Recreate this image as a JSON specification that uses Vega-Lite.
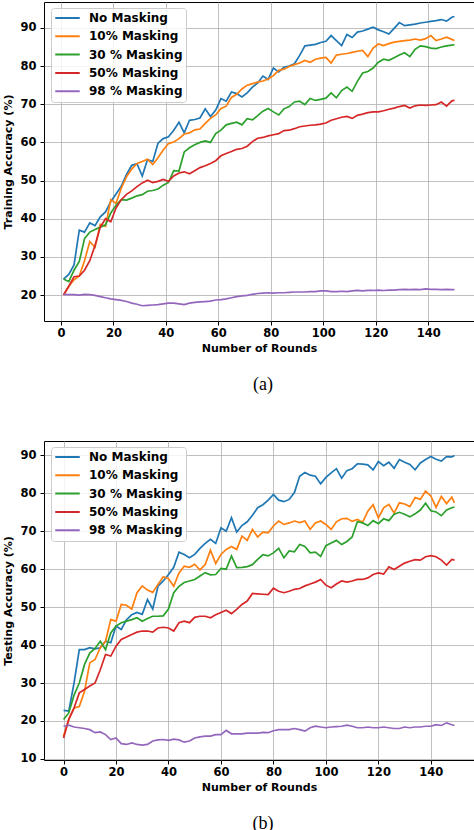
{
  "$schema": "https://vega.github.io/schema/vega-lite/v6.json",
  "background": "white",
  "padding": {"left": 2, "top": 1, "right": 0, "bottom": 0},
  "spacing": 46,
  "config": {
    "view": {"stroke": "black", "strokeWidth": 1},
    "axis": {
      "labelFont": "DejaVu Sans", "labelFontWeight": "bold", "labelFontSize": 11.5, "labelColor": "black",
      "titleFont": "DejaVu Sans", "titleFontWeight": "bold", "titleFontSize": 11, "titleColor": "black",
      "tickColor": "black", "tickSize": 4, "domain": false,
      "gridColor": "#b0b0b0", "gridWidth": 0.8, "gridOpacity": 1
    },
    "axisX": {"labelPadding": 2, "titlePadding": 4},
    "axisY": {"labelPadding": 4, "titlePadding": 6},
    "legend": {
      "orient": "none", "legendX": 7, "legendY": 6,
      "labelFont": "DejaVu Sans", "labelFontWeight": "bold", "labelFontSize": 12, "labelColor": "black",
      "symbolType": "stroke", "symbolStrokeWidth": 2, "symbolSize": 600, "labelOffset": 8,
      "clipHeight": 14, "rowPadding": 4.3, "padding": 3,
      "fillColor": "rgba(255,255,255,0.8)", "strokeColor": "#cccccc", "cornerRadius": 3
    },
    "title": {"font": "Liberation Serif", "fontSize": 18, "fontWeight": "normal", "color": "black", "orient": "bottom", "anchor": "middle", "frame": "group", "offset": 22, "dx": 4}
  },
  "datasets": {
    "train": [
      {"Round": 1, "No Masking": 24.2, "10% Masking": 20.0, "30 % Masking": 24.2, "50% Masking": 20.0, "98 % Masking": 20.2},
      {"Round": 3, "No Masking": 25.4, "10% Masking": 22.3, "30 % Masking": 23.5, "50% Masking": 22.3, "98 % Masking": 20.1},
      {"Round": 5, "No Masking": 27.9, "10% Masking": 24.0, "30 % Masking": 26.5, "50% Masking": 24.8, "98 % Masking": 20.1},
      {"Round": 7, "No Masking": 37.0, "10% Masking": 25.0, "30 % Masking": 28.8, "50% Masking": 25.0, "98 % Masking": 20.0},
      {"Round": 9, "No Masking": 36.5, "10% Masking": 29.0, "30 % Masking": 34.8, "50% Masking": 26.5, "98 % Masking": 20.2},
      {"Round": 11, "No Masking": 38.9, "10% Masking": 34.0, "30 % Masking": 36.5, "50% Masking": 29.0, "98 % Masking": 20.1},
      {"Round": 13, "No Masking": 38.2, "10% Masking": 32.5, "30 % Masking": 37.2, "50% Masking": 33.0, "98 % Masking": 19.9},
      {"Round": 15, "No Masking": 40.5, "10% Masking": 38.5, "30 % Masking": 37.8, "50% Masking": 37.8, "98 % Masking": 19.6},
      {"Round": 17, "No Masking": 41.8, "10% Masking": 38.0, "30 % Masking": 38.4, "50% Masking": 40.0, "98 % Masking": 19.3},
      {"Round": 19, "No Masking": 44.5, "10% Masking": 45.0, "30 % Masking": 41.5, "50% Masking": 39.2, "98 % Masking": 19.0},
      {"Round": 21, "No Masking": 46.5, "10% Masking": 44.0, "30 % Masking": 43.5, "50% Masking": 42.8, "98 % Masking": 18.8},
      {"Round": 23, "No Masking": 48.5, "10% Masking": 48.0, "30 % Masking": 45.0, "50% Masking": 45.0, "98 % Masking": 18.6},
      {"Round": 25, "No Masking": 51.6, "10% Masking": 51.0, "30 % Masking": 44.9, "50% Masking": 46.4, "98 % Masking": 18.3},
      {"Round": 27, "No Masking": 54.0, "10% Masking": 53.0, "30 % Masking": 45.4, "50% Masking": 47.3, "98 % Masking": 17.9},
      {"Round": 29, "No Masking": 54.4, "10% Masking": 54.5, "30 % Masking": 46.0, "50% Masking": 48.4, "98 % Masking": 17.6},
      {"Round": 31, "No Masking": 51.2, "10% Masking": 55.0, "30 % Masking": 46.3, "50% Masking": 49.4, "98 % Masking": 17.2},
      {"Round": 33, "No Masking": 55.5, "10% Masking": 55.6, "30 % Masking": 47.2, "50% Masking": 50.1, "98 % Masking": 17.3},
      {"Round": 35, "No Masking": 55.0, "10% Masking": 54.2, "30 % Masking": 47.4, "50% Masking": 49.5, "98 % Masking": 17.4},
      {"Round": 37, "No Masking": 59.8, "10% Masking": 56.0, "30 % Masking": 47.8, "50% Masking": 49.8, "98 % Masking": 17.5},
      {"Round": 39, "No Masking": 61.0, "10% Masking": 58.0, "30 % Masking": 48.8, "50% Masking": 50.3, "98 % Masking": 17.7},
      {"Round": 41, "No Masking": 61.5, "10% Masking": 59.7, "30 % Masking": 49.5, "50% Masking": 49.8, "98 % Masking": 17.9},
      {"Round": 43, "No Masking": 63.2, "10% Masking": 60.1, "30 % Masking": 52.6, "50% Masking": 51.2, "98 % Masking": 17.9},
      {"Round": 45, "No Masking": 65.3, "10% Masking": 61.0, "30 % Masking": 52.5, "50% Masking": 52.0, "98 % Masking": 17.7},
      {"Round": 47, "No Masking": 62.5, "10% Masking": 62.2, "30 % Masking": 57.5, "50% Masking": 52.3, "98 % Masking": 17.5},
      {"Round": 49, "No Masking": 65.8, "10% Masking": 62.5, "30 % Masking": 58.6, "50% Masking": 51.8, "98 % Masking": 17.9},
      {"Round": 51, "No Masking": 66.0, "10% Masking": 63.3, "30 % Masking": 59.4, "50% Masking": 52.6, "98 % Masking": 18.1},
      {"Round": 53, "No Masking": 66.4, "10% Masking": 63.5, "30 % Masking": 60.0, "50% Masking": 53.4, "98 % Masking": 18.2},
      {"Round": 55, "No Masking": 68.8, "10% Masking": 65.0, "30 % Masking": 60.4, "50% Masking": 53.9, "98 % Masking": 18.3},
      {"Round": 57, "No Masking": 66.8, "10% Masking": 66.3, "30 % Masking": 60.0, "50% Masking": 54.5, "98 % Masking": 18.4},
      {"Round": 59, "No Masking": 68.5, "10% Masking": 67.2, "30 % Masking": 62.3, "50% Masking": 55.2, "98 % Masking": 18.7},
      {"Round": 61, "No Masking": 71.5, "10% Masking": 68.9, "30 % Masking": 63.2, "50% Masking": 56.5, "98 % Masking": 18.8},
      {"Round": 63, "No Masking": 70.8, "10% Masking": 69.5, "30 % Masking": 64.6, "50% Masking": 57.1, "98 % Masking": 19.0},
      {"Round": 65, "No Masking": 73.2, "10% Masking": 71.8, "30 % Masking": 65.0, "50% Masking": 57.6, "98 % Masking": 19.3},
      {"Round": 67, "No Masking": 72.8, "10% Masking": 72.6, "30 % Masking": 65.3, "50% Masking": 58.2, "98 % Masking": 19.6},
      {"Round": 69, "No Masking": 71.9, "10% Masking": 74.0, "30 % Masking": 64.6, "50% Masking": 58.4, "98 % Masking": 19.8},
      {"Round": 71, "No Masking": 73.0, "10% Masking": 75.0, "30 % Masking": 66.2, "50% Masking": 59.0, "98 % Masking": 19.9},
      {"Round": 73, "No Masking": 74.5, "10% Masking": 75.4, "30 % Masking": 65.9, "50% Masking": 60.2, "98 % Masking": 20.2},
      {"Round": 75, "No Masking": 75.6, "10% Masking": 75.8, "30 % Masking": 67.0, "50% Masking": 61.1, "98 % Masking": 20.4},
      {"Round": 77, "No Masking": 77.4, "10% Masking": 76.1, "30 % Masking": 68.2, "50% Masking": 61.3, "98 % Masking": 20.5},
      {"Round": 79, "No Masking": 76.5, "10% Masking": 76.6, "30 % Masking": 68.9, "50% Masking": 61.7, "98 % Masking": 20.6},
      {"Round": 81, "No Masking": 79.5, "10% Masking": 77.5, "30 % Masking": 68.0, "50% Masking": 62.0, "98 % Masking": 20.5},
      {"Round": 83, "No Masking": 78.5, "10% Masking": 78.9, "30 % Masking": 67.2, "50% Masking": 62.3, "98 % Masking": 20.6},
      {"Round": 85, "No Masking": 79.7, "10% Masking": 79.2, "30 % Masking": 68.8, "50% Masking": 63.1, "98 % Masking": 20.6},
      {"Round": 87, "No Masking": 80.0, "10% Masking": 79.9, "30 % Masking": 69.4, "50% Masking": 63.2, "98 % Masking": 20.7},
      {"Round": 89, "No Masking": 80.6, "10% Masking": 80.4, "30 % Masking": 70.6, "50% Masking": 63.6, "98 % Masking": 20.8},
      {"Round": 91, "No Masking": 82.8, "10% Masking": 80.8, "30 % Masking": 70.8, "50% Masking": 64.1, "98 % Masking": 20.8},
      {"Round": 93, "No Masking": 85.3, "10% Masking": 81.5, "30 % Masking": 69.9, "50% Masking": 64.3, "98 % Masking": 20.8},
      {"Round": 95, "No Masking": 85.5, "10% Masking": 81.0, "30 % Masking": 71.5, "50% Masking": 64.5, "98 % Masking": 20.9},
      {"Round": 97, "No Masking": 85.7, "10% Masking": 81.8, "30 % Masking": 71.0, "50% Masking": 64.6, "98 % Masking": 20.9},
      {"Round": 99, "No Masking": 86.2, "10% Masking": 82.1, "30 % Masking": 71.3, "50% Masking": 64.8, "98 % Masking": 21.1},
      {"Round": 101, "No Masking": 86.5, "10% Masking": 82.3, "30 % Masking": 71.6, "50% Masking": 65.1, "98 % Masking": 21.1},
      {"Round": 103, "No Masking": 88.0, "10% Masking": 80.8, "30 % Masking": 73.0, "50% Masking": 65.8, "98 % Masking": 20.9},
      {"Round": 105, "No Masking": 86.7, "10% Masking": 82.9, "30 % Masking": 71.7, "50% Masking": 66.2, "98 % Masking": 20.9},
      {"Round": 107, "No Masking": 85.4, "10% Masking": 83.1, "30 % Masking": 73.6, "50% Masking": 66.6, "98 % Masking": 21.0},
      {"Round": 109, "No Masking": 88.3, "10% Masking": 83.3, "30 % Masking": 74.5, "50% Masking": 66.8, "98 % Masking": 20.9},
      {"Round": 111, "No Masking": 87.5, "10% Masking": 83.6, "30 % Masking": 73.4, "50% Masking": 66.3, "98 % Masking": 21.1},
      {"Round": 113, "No Masking": 88.9, "10% Masking": 83.9, "30 % Masking": 76.0, "50% Masking": 67.1, "98 % Masking": 21.2},
      {"Round": 115, "No Masking": 89.2, "10% Masking": 84.1, "30 % Masking": 78.2, "50% Masking": 67.4, "98 % Masking": 21.1},
      {"Round": 117, "No Masking": 89.7, "10% Masking": 82.5, "30 % Masking": 78.6, "50% Masking": 67.8, "98 % Masking": 21.2},
      {"Round": 119, "No Masking": 90.2, "10% Masking": 84.7, "30 % Masking": 79.5, "50% Masking": 68.0, "98 % Masking": 21.2},
      {"Round": 121, "No Masking": 89.5, "10% Masking": 85.8, "30 % Masking": 81.0, "50% Masking": 68.0, "98 % Masking": 21.3},
      {"Round": 123, "No Masking": 89.0, "10% Masking": 85.4, "30 % Masking": 81.8, "50% Masking": 68.3, "98 % Masking": 21.2},
      {"Round": 125, "No Masking": 88.4, "10% Masking": 85.9, "30 % Masking": 81.5, "50% Masking": 68.7, "98 % Masking": 21.3},
      {"Round": 127, "No Masking": 89.9, "10% Masking": 86.3, "30 % Masking": 82.2, "50% Masking": 69.0, "98 % Masking": 21.3},
      {"Round": 129, "No Masking": 91.4, "10% Masking": 86.5, "30 % Masking": 82.9, "50% Masking": 69.4, "98 % Masking": 21.4},
      {"Round": 131, "No Masking": 90.6, "10% Masking": 86.7, "30 % Masking": 83.5, "50% Masking": 69.7, "98 % Masking": 21.5},
      {"Round": 133, "No Masking": 90.8, "10% Masking": 86.8, "30 % Masking": 82.5, "50% Masking": 69.0, "98 % Masking": 21.4},
      {"Round": 135, "No Masking": 91.0, "10% Masking": 87.1, "30 % Masking": 84.4, "50% Masking": 69.6, "98 % Masking": 21.5},
      {"Round": 137, "No Masking": 91.3, "10% Masking": 86.8, "30 % Masking": 85.3, "50% Masking": 69.8, "98 % Masking": 21.4},
      {"Round": 139, "No Masking": 91.5, "10% Masking": 87.2, "30 % Masking": 85.1, "50% Masking": 69.7, "98 % Masking": 21.6},
      {"Round": 141, "No Masking": 91.7, "10% Masking": 88.0, "30 % Masking": 84.7, "50% Masking": 69.8, "98 % Masking": 21.5},
      {"Round": 143, "No Masking": 91.9, "10% Masking": 86.7, "30 % Masking": 84.6, "50% Masking": 69.9, "98 % Masking": 21.5},
      {"Round": 145, "No Masking": 92.2, "10% Masking": 87.1, "30 % Masking": 85.0, "50% Masking": 70.6, "98 % Masking": 21.4},
      {"Round": 147, "No Masking": 91.8, "10% Masking": 87.6, "30 % Masking": 85.3, "50% Masking": 69.5, "98 % Masking": 21.5},
      {"Round": 149, "No Masking": 92.8, "10% Masking": 87.0, "30 % Masking": 85.5, "50% Masking": 70.9, "98 % Masking": 21.4},
      {"Round": 150, "No Masking": 93.0, "10% Masking": 86.7, "30 % Masking": 85.6, "50% Masking": 71.0, "98 % Masking": 21.4}
    ],
    "test": [
      {"Round": 0, "No Masking": 22.8, "10% Masking": 16.0, "30 % Masking": 20.4, "50% Masking": 15.5, "98 % Masking": 18.6},
      {"Round": 2, "No Masking": 22.6, "10% Masking": 20.4, "30 % Masking": 22.1, "50% Masking": 20.4, "98 % Masking": 18.9},
      {"Round": 4, "No Masking": 30.0, "10% Masking": 23.4, "30 % Masking": 26.8, "50% Masking": 23.4, "98 % Masking": 18.4},
      {"Round": 6, "No Masking": 38.8, "10% Masking": 23.8, "30 % Masking": 30.0, "50% Masking": 27.4, "98 % Masking": 18.2},
      {"Round": 8, "No Masking": 38.8, "10% Masking": 27.8, "30 % Masking": 34.9, "50% Masking": 28.3, "98 % Masking": 18.0},
      {"Round": 10, "No Masking": 39.3, "10% Masking": 35.3, "30 % Masking": 37.9, "50% Masking": 29.2, "98 % Masking": 17.7},
      {"Round": 12, "No Masking": 39.0, "10% Masking": 36.2, "30 % Masking": 39.1, "50% Masking": 30.0, "98 % Masking": 16.9},
      {"Round": 14, "No Masking": 39.3, "10% Masking": 39.3, "30 % Masking": 41.0, "50% Masking": 33.5, "98 % Masking": 17.1},
      {"Round": 16, "No Masking": 41.0, "10% Masking": 41.0, "30 % Masking": 38.8, "50% Masking": 37.5, "98 % Masking": 16.4},
      {"Round": 18, "No Masking": 40.6, "10% Masking": 46.7, "30 % Masking": 43.2, "50% Masking": 37.1, "98 % Masking": 15.1},
      {"Round": 20, "No Masking": 45.0, "10% Masking": 46.3, "30 % Masking": 45.0, "50% Masking": 39.7, "98 % Masking": 15.5},
      {"Round": 22, "No Masking": 44.1, "10% Masking": 50.7, "30 % Masking": 45.9, "50% Masking": 41.5, "98 % Masking": 14.0},
      {"Round": 24, "No Masking": 46.7, "10% Masking": 50.5, "30 % Masking": 46.3, "50% Masking": 42.1, "98 % Masking": 13.8},
      {"Round": 26, "No Masking": 48.0, "10% Masking": 49.5, "30 % Masking": 46.7, "50% Masking": 42.8, "98 % Masking": 14.2},
      {"Round": 28, "No Masking": 48.6, "10% Masking": 53.8, "30 % Masking": 47.2, "50% Masking": 43.4, "98 % Masking": 13.8},
      {"Round": 30, "No Masking": 48.1, "10% Masking": 55.6, "30 % Masking": 46.3, "50% Masking": 43.7, "98 % Masking": 13.6},
      {"Round": 32, "No Masking": 52.0, "10% Masking": 54.5, "30 % Masking": 47.0, "50% Masking": 43.7, "98 % Masking": 13.8},
      {"Round": 34, "No Masking": 49.5, "10% Masking": 53.9, "30 % Masking": 47.6, "50% Masking": 43.4, "98 % Masking": 14.7},
      {"Round": 36, "No Masking": 55.5, "10% Masking": 56.0, "30 % Masking": 47.6, "50% Masking": 44.5, "98 % Masking": 15.0},
      {"Round": 38, "No Masking": 56.9, "10% Masking": 58.0, "30 % Masking": 47.7, "50% Masking": 44.7, "98 % Masking": 15.1},
      {"Round": 40, "No Masking": 58.6, "10% Masking": 57.5, "30 % Masking": 49.5, "50% Masking": 44.5, "98 % Masking": 14.9},
      {"Round": 42, "No Masking": 60.5, "10% Masking": 55.5, "30 % Masking": 53.8, "50% Masking": 43.7, "98 % Masking": 15.2},
      {"Round": 44, "No Masking": 64.5, "10% Masking": 59.0, "30 % Masking": 55.5, "50% Masking": 45.9, "98 % Masking": 15.0},
      {"Round": 46, "No Masking": 63.9, "10% Masking": 60.8, "30 % Masking": 56.5, "50% Masking": 46.3, "98 % Masking": 14.4},
      {"Round": 48, "No Masking": 63.0, "10% Masking": 60.5, "30 % Masking": 56.9, "50% Masking": 45.9, "98 % Masking": 14.7},
      {"Round": 50, "No Masking": 63.9, "10% Masking": 61.3, "30 % Masking": 57.3, "50% Masking": 47.3, "98 % Masking": 15.5},
      {"Round": 52, "No Masking": 65.5, "10% Masking": 59.8, "30 % Masking": 58.2, "50% Masking": 47.6, "98 % Masking": 15.8},
      {"Round": 54, "No Masking": 66.8, "10% Masking": 61.2, "30 % Masking": 59.1, "50% Masking": 47.6, "98 % Masking": 16.0},
      {"Round": 56, "No Masking": 67.9, "10% Masking": 65.0, "30 % Masking": 58.5, "50% Masking": 47.2, "98 % Masking": 16.0},
      {"Round": 58, "No Masking": 66.8, "10% Masking": 61.5, "30 % Masking": 58.6, "50% Masking": 48.0, "98 % Masking": 16.4},
      {"Round": 60, "No Masking": 70.9, "10% Masking": 63.9, "30 % Masking": 60.2, "50% Masking": 48.6, "98 % Masking": 16.4},
      {"Round": 62, "No Masking": 70.0, "10% Masking": 65.2, "30 % Masking": 60.0, "50% Masking": 49.2, "98 % Masking": 17.5},
      {"Round": 64, "No Masking": 73.6, "10% Masking": 66.0, "30 % Masking": 63.5, "50% Masking": 48.3, "98 % Masking": 16.6},
      {"Round": 66, "No Masking": 69.8, "10% Masking": 65.2, "30 % Masking": 60.4, "50% Masking": 49.4, "98 % Masking": 16.6},
      {"Round": 68, "No Masking": 71.5, "10% Masking": 68.7, "30 % Masking": 60.5, "50% Masking": 50.7, "98 % Masking": 16.6},
      {"Round": 70, "No Masking": 72.5, "10% Masking": 67.6, "30 % Masking": 60.7, "50% Masking": 51.6, "98 % Masking": 16.8},
      {"Round": 72, "No Masking": 74.2, "10% Masking": 70.5, "30 % Masking": 61.2, "50% Masking": 53.6, "98 % Masking": 16.8},
      {"Round": 74, "No Masking": 76.2, "10% Masking": 68.5, "30 % Masking": 62.6, "50% Masking": 53.5, "98 % Masking": 16.8},
      {"Round": 76, "No Masking": 77.0, "10% Masking": 69.8, "30 % Masking": 63.8, "50% Masking": 53.4, "98 % Masking": 17.0},
      {"Round": 78, "No Masking": 78.2, "10% Masking": 69.6, "30 % Masking": 63.5, "50% Masking": 53.3, "98 % Masking": 16.9},
      {"Round": 80, "No Masking": 79.7, "10% Masking": 71.4, "30 % Masking": 64.3, "50% Masking": 55.0, "98 % Masking": 17.4},
      {"Round": 82, "No Masking": 78.2, "10% Masking": 72.7, "30 % Masking": 65.5, "50% Masking": 54.2, "98 % Masking": 17.7},
      {"Round": 84, "No Masking": 77.8, "10% Masking": 71.8, "30 % Masking": 63.0, "50% Masking": 53.8, "98 % Masking": 17.7},
      {"Round": 86, "No Masking": 78.4, "10% Masking": 72.2, "30 % Masking": 64.8, "50% Masking": 54.2, "98 % Masking": 17.7},
      {"Round": 88, "No Masking": 80.2, "10% Masking": 72.7, "30 % Masking": 64.6, "50% Masking": 54.7, "98 % Masking": 18.0},
      {"Round": 90, "No Masking": 84.5, "10% Masking": 72.3, "30 % Masking": 66.5, "50% Masking": 54.9, "98 % Masking": 17.7},
      {"Round": 92, "No Masking": 85.5, "10% Masking": 72.7, "30 % Masking": 66.0, "50% Masking": 55.6, "98 % Masking": 17.3},
      {"Round": 94, "No Masking": 84.8, "10% Masking": 70.5, "30 % Masking": 64.3, "50% Masking": 56.1, "98 % Masking": 18.2},
      {"Round": 96, "No Masking": 84.5, "10% Masking": 72.2, "30 % Masking": 64.5, "50% Masking": 56.6, "98 % Masking": 18.6},
      {"Round": 98, "No Masking": 82.5, "10% Masking": 72.7, "30 % Masking": 63.4, "50% Masking": 57.3, "98 % Masking": 18.4},
      {"Round": 100, "No Masking": 84.2, "10% Masking": 71.8, "30 % Masking": 66.2, "50% Masking": 55.8, "98 % Masking": 18.2},
      {"Round": 102, "No Masking": 85.4, "10% Masking": 70.5, "30 % Masking": 66.9, "50% Masking": 55.1, "98 % Masking": 18.4},
      {"Round": 104, "No Masking": 86.5, "10% Masking": 72.5, "30 % Masking": 67.6, "50% Masking": 56.1, "98 % Masking": 18.5},
      {"Round": 106, "No Masking": 84.0, "10% Masking": 73.3, "30 % Masking": 66.5, "50% Masking": 56.9, "98 % Masking": 18.6},
      {"Round": 108, "No Masking": 86.0, "10% Masking": 73.4, "30 % Masking": 67.3, "50% Masking": 56.6, "98 % Masking": 18.9},
      {"Round": 110, "No Masking": 86.5, "10% Masking": 72.6, "30 % Masking": 68.5, "50% Masking": 56.9, "98 % Masking": 18.6},
      {"Round": 112, "No Masking": 87.8, "10% Masking": 73.1, "30 % Masking": 72.5, "50% Masking": 57.3, "98 % Masking": 18.2},
      {"Round": 114, "No Masking": 87.7, "10% Masking": 72.4, "30 % Masking": 72.2, "50% Masking": 57.3, "98 % Masking": 18.2},
      {"Round": 116, "No Masking": 87.5, "10% Masking": 75.3, "30 % Masking": 71.5, "50% Masking": 57.7, "98 % Masking": 18.4},
      {"Round": 118, "No Masking": 86.2, "10% Masking": 77.0, "30 % Masking": 72.8, "50% Masking": 58.6, "98 % Masking": 18.2},
      {"Round": 120, "No Masking": 88.4, "10% Masking": 73.5, "30 % Masking": 72.0, "50% Masking": 59.0, "98 % Masking": 18.2},
      {"Round": 122, "No Masking": 87.3, "10% Masking": 76.2, "30 % Masking": 73.3, "50% Masking": 58.7, "98 % Masking": 18.4},
      {"Round": 124, "No Masking": 88.2, "10% Masking": 77.1, "30 % Masking": 72.8, "50% Masking": 60.6, "98 % Masking": 18.2},
      {"Round": 126, "No Masking": 86.6, "10% Masking": 74.8, "30 % Masking": 74.5, "50% Masking": 59.9, "98 % Masking": 18.0},
      {"Round": 128, "No Masking": 88.9, "10% Masking": 77.5, "30 % Masking": 75.0, "50% Masking": 60.8, "98 % Masking": 18.0},
      {"Round": 130, "No Masking": 88.2, "10% Masking": 77.2, "30 % Masking": 74.5, "50% Masking": 61.6, "98 % Masking": 18.4},
      {"Round": 132, "No Masking": 87.6, "10% Masking": 76.5, "30 % Masking": 73.8, "50% Masking": 62.1, "98 % Masking": 18.2},
      {"Round": 134, "No Masking": 86.2, "10% Masking": 78.9, "30 % Masking": 74.6, "50% Masking": 62.5, "98 % Masking": 18.4},
      {"Round": 136, "No Masking": 88.0, "10% Masking": 78.4, "30 % Masking": 75.6, "50% Masking": 62.4, "98 % Masking": 18.4},
      {"Round": 138, "No Masking": 88.9, "10% Masking": 80.6, "30 % Masking": 77.4, "50% Masking": 63.3, "98 % Masking": 18.6},
      {"Round": 140, "No Masking": 89.7, "10% Masking": 79.3, "30 % Masking": 75.4, "50% Masking": 63.6, "98 % Masking": 18.6},
      {"Round": 142, "No Masking": 89.0, "10% Masking": 76.3, "30 % Masking": 75.1, "50% Masking": 63.3, "98 % Masking": 19.0},
      {"Round": 144, "No Masking": 88.5, "10% Masking": 79.2, "30 % Masking": 74.1, "50% Masking": 62.4, "98 % Masking": 18.8},
      {"Round": 146, "No Masking": 89.7, "10% Masking": 77.3, "30 % Masking": 75.6, "50% Masking": 61.1, "98 % Masking": 19.5},
      {"Round": 148, "No Masking": 89.6, "10% Masking": 79.0, "30 % Masking": 76.2, "50% Masking": 62.6, "98 % Masking": 19.0},
      {"Round": 149, "No Masking": 90.0, "10% Masking": 77.5, "30 % Masking": 76.4, "50% Masking": 62.4, "98 % Masking": 18.8}
    ]
  },
  "vconcat": [
    {
      "width": 430,
      "height": 319,
      "title": {"text": "(a)"},
      "data": {"name": "train"},
      "transform": [{"fold": ["No Masking", "10% Masking", "30 % Masking", "50% Masking", "98 % Masking"], "as": ["series", "acc"]}],
      "mark": {"type": "line", "strokeWidth": 1.7},
      "encoding": {
        "x": {"field": "Round", "type": "quantitative", "title": "Number of Rounds",
          "scale": {"domain": [-6.45, 157.45], "nice": false, "zero": false},
          "axis": {"values": [0, 20, 40, 60, 80, 100, 120, 140]}},
        "y": {"field": "acc", "type": "quantitative", "title": "Training Accuracy (%)",
          "scale": {"domain": [13.2, 96.8], "nice": false, "zero": false},
          "axis": {"values": [20, 30, 40, 50, 60, 70, 80, 90]}},
        "color": {"field": "series", "type": "nominal",
          "scale": {"domain": ["No Masking", "10% Masking", "30 % Masking", "50% Masking", "98 % Masking"],
            "range": ["#1f77b4", "#ff7f0e", "#2ca02c", "#d62728", "#9467bd"]},
          "legend": {"title": null}}
      }
    },
    {
      "width": 430,
      "height": 319,
      "title": {"text": "(b)"},
      "data": {"name": "test"},
      "transform": [{"fold": ["No Masking", "10% Masking", "30 % Masking", "50% Masking", "98 % Masking"], "as": ["series", "acc"]}],
      "mark": {"type": "line", "strokeWidth": 1.7},
      "encoding": {
        "x": {"field": "Round", "type": "quantitative", "title": "Number of Rounds",
          "scale": {"domain": [-7.45, 156.45], "nice": false, "zero": false},
          "axis": {"values": [0, 20, 40, 60, 80, 100, 120, 140]}},
        "y": {"field": "acc", "type": "quantitative", "title": "Testing Accuracy (%)",
          "scale": {"domain": [9.7, 93.8], "nice": false, "zero": false},
          "axis": {"values": [10, 20, 30, 40, 50, 60, 70, 80, 90]}},
        "color": {"field": "series", "type": "nominal",
          "scale": {"domain": ["No Masking", "10% Masking", "30 % Masking", "50% Masking", "98 % Masking"],
            "range": ["#1f77b4", "#ff7f0e", "#2ca02c", "#d62728", "#9467bd"]},
          "legend": {"title": null}}
      }
    }
  ],
  "resolve": {"scale": {"color": "independent"}, "legend": {"color": "independent"}}
}
